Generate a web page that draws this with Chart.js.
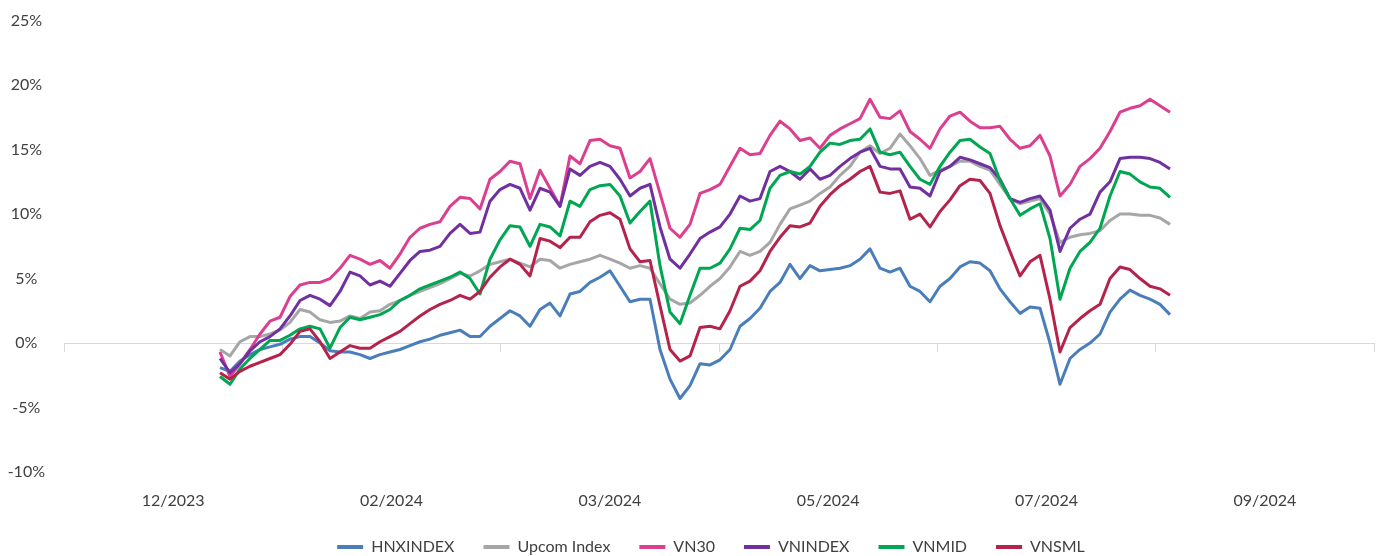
<!DOCTYPE html>
<html>
<head>
<meta charset="utf-8">
<script src="https://cdn.jsdelivr.net/npm/chart.js@4.4.1/dist/chart.umd.min.js"></script>
<style>
  html, body { margin: 0; padding: 0; background: #fff; }
  #wrap { width: 1378px; height: 556px; position: relative; }
</style>
</head>
<body>
<div id="wrap"><canvas id="c"></canvas></div>
<script>
// period labels shown under the plot, one per axis band
const tickLabels = ['12/2023', '02/2024', '03/2024', '05/2024', '07/2024', '09/2024'];
const seriesNames = ['HNXINDEX', 'Upcom Index', 'VN30', 'VNINDEX', 'VNMID', 'VNSML'];

// cumulative return (%) per trading sample
const hnx = [
  -1.9,-2.2,-1.4,-0.9,-0.5,-0.3,-0.1,0.3,0.5,0.5,
  0.0,-0.6,-0.7,-0.7,-0.9,-1.2,-0.9,-0.7,-0.5,-0.2,
  0.1,0.3,0.6,0.8,1.0,0.5,0.5,1.3,1.9,2.5,
  2.1,1.3,2.6,3.1,2.1,3.8,4.0,4.7,5.1,5.6,
  4.4,3.2,3.4,3.4,-0.5,-2.8,-4.3,-3.3,-1.6,-1.7,
  -1.3,-0.5,1.3,1.9,2.7,4.0,4.7,6.1,5.0,6.0,
  5.6,5.7,5.8,6.0,6.5,7.3,5.8,5.5,5.8,4.4,
  4.0,3.2,4.4,5.0,5.9,6.3,6.2,5.6,4.2,3.2,
  2.3,2.8,2.7,0.0,-3.2,-1.2,-0.5,0.0,0.7,2.4,
  3.4,4.1,3.7,3.4,3.0,2.2
];
const upcom = [
  -0.5,-1.0,0.1,0.5,0.5,0.7,1.0,1.6,2.6,2.4,
  1.8,1.6,1.7,2.1,1.9,2.4,2.5,3.0,3.3,3.7,
  4.0,4.3,4.6,5.0,5.4,5.2,5.6,6.1,6.3,6.5,
  6.2,5.9,6.5,6.4,5.8,6.1,6.3,6.5,6.8,6.5,
  6.2,5.8,6.0,5.8,4.6,3.4,3.0,3.1,3.7,4.4,
  5.0,5.9,7.1,6.8,7.1,7.8,9.2,10.4,10.7,11.0,
  11.6,12.1,13.0,13.7,14.8,15.3,14.7,15.1,16.2,15.3,
  14.3,13.0,13.4,13.7,14.1,14.1,13.7,13.4,12.3,11.2,
  10.8,11.0,11.2,10.0,7.8,8.2,8.4,8.5,8.7,9.5,
  10.0,10.0,9.9,9.9,9.7,9.2
];
const vn30 = [
  -0.7,-2.6,-1.6,-0.5,0.7,1.7,2.0,3.6,4.5,4.7,
  4.7,5.0,5.8,6.8,6.5,6.1,6.4,5.8,6.9,8.2,
  8.9,9.2,9.4,10.6,11.3,11.2,10.4,12.7,13.3,14.1,
  13.9,11.2,13.4,12.0,10.6,14.5,13.9,15.7,15.8,15.3,
  15.1,12.8,13.3,14.3,11.6,8.9,8.2,9.2,11.6,11.9,
  12.3,13.7,15.1,14.6,14.7,16.1,17.2,16.6,15.7,15.9,
  15.1,16.1,16.6,17.0,17.4,18.9,17.5,17.4,18.0,16.4,
  15.8,15.1,16.6,17.6,17.9,17.2,16.7,16.7,16.8,15.8,
  15.1,15.3,16.1,14.5,11.4,12.3,13.7,14.3,15.1,16.4,
  17.9,18.2,18.4,18.9,18.4,17.9
];
const vnindex = [
  -1.2,-2.3,-1.6,-0.6,0.1,0.5,1.1,2.1,3.3,3.7,
  3.4,2.9,4.0,5.5,5.2,4.5,4.8,4.4,5.4,6.4,
  7.1,7.2,7.5,8.5,9.2,8.5,8.6,11.0,11.9,12.3,
  12.0,10.3,12.0,11.7,10.6,13.5,13.0,13.7,14.0,13.7,
  12.7,11.4,12.0,12.3,9.0,6.5,5.8,6.9,8.1,8.6,
  9.0,10.0,11.4,11.0,11.2,13.3,13.7,13.3,12.7,13.5,
  12.7,13.0,13.7,14.3,14.8,15.1,13.7,13.5,13.5,12.1,
  12.0,11.4,13.3,13.7,14.4,14.2,13.9,13.6,12.7,11.2,
  10.9,11.2,11.4,10.3,7.1,8.9,9.6,10.0,11.7,12.5,
  14.3,14.4,14.4,14.3,14.0,13.5
];
const vnmid = [
  -2.6,-3.2,-2.0,-1.2,-0.5,0.2,0.2,0.6,1.1,1.3,
  1.1,-0.4,1.2,2.0,1.8,2.0,2.2,2.6,3.3,3.7,
  4.2,4.5,4.8,5.1,5.5,5.0,3.8,6.5,8.0,9.1,
  9.0,7.5,9.2,9.0,8.3,11.0,10.6,11.9,12.2,12.3,
  11.4,9.3,10.2,11.0,6.0,2.4,1.5,3.7,5.8,5.8,
  6.2,7.3,8.9,8.8,9.5,12.0,13.0,13.3,13.1,13.7,
  14.8,15.5,15.4,15.7,15.8,16.6,14.8,14.6,14.8,13.7,
  12.7,12.3,13.7,14.8,15.7,15.8,15.2,14.7,12.6,11.2,
  9.9,10.4,10.8,8.1,3.4,5.8,7.1,7.8,8.9,11.4,
  13.3,13.1,12.5,12.1,12.0,11.3
];
const vnsml = [
  -2.3,-2.8,-2.2,-1.8,-1.5,-1.2,-0.9,-0.1,0.9,1.1,
  0.1,-1.2,-0.7,-0.2,-0.4,-0.4,0.1,0.5,0.9,1.5,
  2.1,2.6,3.0,3.3,3.7,3.4,4.0,5.1,5.9,6.5,
  6.1,5.2,8.1,7.9,7.4,8.2,8.2,9.4,9.9,10.1,
  9.6,7.3,6.3,6.4,2.9,-0.5,-1.4,-1.0,1.2,1.3,
  1.1,2.5,4.4,4.8,5.6,7.1,8.2,9.1,9.0,9.3,
  10.6,11.5,12.2,12.7,13.3,13.7,11.7,11.6,11.8,9.6,
  10.0,9.0,10.2,11.1,12.2,12.7,12.6,11.6,9.1,7.1,
  5.2,6.3,6.8,3.4,-0.7,1.2,1.9,2.5,3.0,5.0,
  5.9,5.7,5.0,4.4,4.2,3.7
];

const seriesValues = [hnx, upcom, vn30, vnindex, vnmid, vnsml];
const seriesColors = ['#4a7ebb', '#a6a6a6', '#dc3f8f', '#7030a0', '#00a651', '#b5234c'];

// x axis runs a little before and well past the sampled period
const X_MIN = -15.6, X_MAX = 115.4, BANDS = 6;
const band = (X_MAX - X_MIN) / BANDS;

const font = { family: 'Lato', size: 16 };
const textColor = '#404040';

const datasets = seriesValues.map((vals, k) => ({
  label: seriesNames[k],
  data: vals.map((v, i) => ({ x: i, y: v })),
  borderColor: seriesColors[k],
  backgroundColor: seriesColors[k],
  borderWidth: 3,
  pointRadius: 0,
  tension: 0,
  borderJoinStyle: 'round',
  order: seriesValues.length - k   // later series drawn on top
}));

// legend: fixed height, nudged right like the original
const legendBox = {
  id: 'legendBox',
  beforeInit(chart) {
    const fit = chart.legend.fit;
    chart.legend.fit = function () { fit.call(this); this.height = 46; };
  },
  afterLayout(chart) {
    chart.legend.left += 48;
  }
};

new Chart(document.getElementById('c'), {
  type: 'line',
  data: { datasets },
  plugins: [legendBox],
  options: {
    responsive: true,
    maintainAspectRatio: false,
    animation: false,
    layout: { padding: { left: 0, right: 4, top: 12, bottom: 0 } },
    plugins: {
      tooltip: { enabled: false },
      legend: {
        position: 'bottom',
        labels: {
          font, color: textColor,
          boxWidth: 26, boxHeight: 4, padding: 29,
          sort: (a, b) => a.datasetIndex - b.datasetIndex,
          generateLabels(chart) {
            const items = Chart.defaults.plugins.legend.labels.generateLabels(chart);
            items.forEach(it => { it.lineWidth = 0; it.fillStyle = it.strokeStyle; });
            return items;
          }
        }
      }
    },
    scales: {
      x: {
        type: 'linear', min: X_MIN, max: X_MAX,
        position: { y: 0 },
        afterBuildTicks(s) {
          s.ticks = Array.from({ length: BANDS + 1 }, (_, k) => ({ value: X_MIN + k * band }));
        },
        ticks: { display: false },
        grid: { drawOnChartArea: false, drawTicks: true, tickLength: 8, color: '#d9d9d9' },
        border: { color: '#d9d9d9', width: 1 }
      },
      x2: {
        type: 'linear', min: X_MIN, max: X_MAX,
        position: 'bottom',
        afterBuildTicks(s) {
          s.ticks = tickLabels.map((_, k) => ({ value: X_MIN + (k + 0.5) * band }));
        },
        afterFit(s) { s.height = 38; },
        ticks: {
          autoSkip: false, maxRotation: 0, padding: 11, font, color: textColor,
          callback: (v, i) => tickLabels[i]
        },
        grid: { display: false },
        border: { display: false }
      },
      y: {
        min: -10, max: 25,
        afterFit(s) { s.width = 64; },
        ticks: {
          stepSize: 5, font, color: textColor, crossAlign: 'center', padding: 11,
          callback: v => v + '%'
        },
        grid: { display: false },
        border: { display: false }
      }
    }
  }
});
</script>
</body>
</html>
